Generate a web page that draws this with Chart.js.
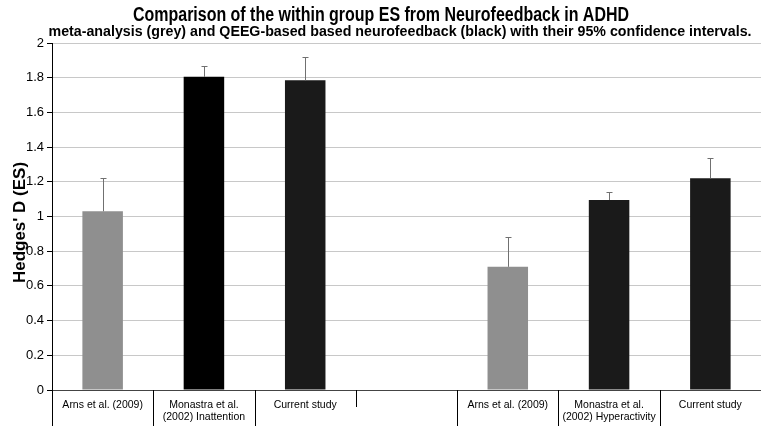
<!DOCTYPE html>
<html>
<head>
<meta charset="utf-8">
<script src="https://cdn.jsdelivr.net/npm/chart.js@4/dist/chart.umd.min.js"></script>
<style>
  body { margin: 0; background: #fff; }
  #wrap { width: 761px; height: 426px; }
</style>
</head>
<body>
<div id="wrap"><canvas id="esChart"></canvas></div>
<script>
const categories = [
    'Arns et al. (2009)',
    ['Monastra et al.', '(2002) Inattention'],
    'Current study',
    '',
    'Arns et al. (2009)',
    ['Monastra et al.', '(2002) Hyperactivity'],
    'Current study'
];
const esValues = [1.03, 1.805, 1.785, null, 0.71, 1.095, 1.22];
const ciUpper = [1.22, 1.865, 1.92, null, 0.88, 1.14, 1.335];
const barColors = ['#8f8f8f', '#000000', '#1a1a1a', '#1a1a1a', '#8f8f8f', '#1a1a1a', '#1a1a1a'];
const yTicks = [0, 0.2, 0.4, 0.6, 0.8, 1, 1.2, 1.4, 1.6, 1.8, 2];

const titleText = 'Comparison of the within group ES from Neurofeedback in ADHD';
const subtitleText = 'meta-analysis (grey) and QEEG-based based neurofeedback (black) with their 95% confidence intervals.';
const yTitleText = "Hedges' D (ES)";

const plain = "'Liberation Sans', Arial, sans-serif";

// the original uses a condensed bold face, so squeeze the text horizontally
function narrowText(ctx, text, size, cx, cy, width) {
    ctx.save();
    ctx.font = 'bold ' + size + 'px ' + plain;
    ctx.fillStyle = '#000';
    ctx.textAlign = 'center';
    ctx.textBaseline = 'middle';
    const w = ctx.measureText(text).width;
    ctx.translate(cx, cy);
    ctx.scale(Math.min(1, width / w), 1);
    ctx.fillText(text, 0, 0);
    ctx.restore();
}

const extras = {
    id: 'extras',
    afterDatasetsDraw(chart) {
        const ctx = chart.ctx;
        const x = chart.scales.x;
        const y = chart.scales.y;
        ctx.save();
        // error bars, upper half only
        ctx.strokeStyle = '#707070';
        ctx.lineWidth = 1;
        ciUpper.forEach((hi, i) => {
            if (hi == null) return;
            const px = Math.round(x.getPixelForValue(i)) + 0.5;
            const top = Math.round(y.getPixelForValue(hi)) + 0.5;
            const base = y.getPixelForValue(esValues[i]);
            ctx.beginPath();
            ctx.moveTo(px, base);
            ctx.lineTo(px, top);
            ctx.moveTo(px - 3, top);
            ctx.lineTo(px + 3, top);
            ctx.stroke();
        });

        // table-like separators under the x axis
        const step = x.getPixelForValue(1) - x.getPixelForValue(0);
        const y0 = y.getPixelForValue(0);
        ctx.strokeStyle = '#000';
        for (let i = 0; i < categories.length - 1; i++) {
            const bx = Math.round(x.getPixelForValue(i) + step / 2) + 0.5;
            const bottom = (i === 2) ? y0 + 17 : chart.height;
            ctx.beginPath();
            ctx.moveTo(bx, y0);
            ctx.lineTo(bx, bottom);
            ctx.stroke();
        }
        const ax = Math.round(chart.chartArea.left) + 0.5;
        ctx.beginPath();
        ctx.moveTo(ax, y0);
        ctx.lineTo(ax, chart.height);
        ctx.stroke();
        ctx.restore();
    },
    afterDraw(chart) {
        const ctx = chart.ctx;
        narrowText(ctx, titleText, 20, 381, 15, 496);
        narrowText(ctx, subtitleText, 15, 400, 32, 703);
        const a = chart.chartArea;
        ctx.save();
        ctx.translate(20, (a.top + a.bottom) / 2 + 6);
        ctx.rotate(-Math.PI / 2);
        ctx.font = 'bold 17px ' + plain;
        ctx.fillStyle = '#000';
        ctx.textAlign = 'center';
        ctx.textBaseline = 'middle';
        ctx.fillText(yTitleText, 0, 0);
        ctx.restore();
    }
};

new Chart(document.getElementById('esChart'), {
    type: 'bar',
    data: {
        labels: categories,
        datasets: [{
            data: esValues,
            backgroundColor: barColors,
            borderWidth: 0,
            barPercentage: 0.4,
            categoryPercentage: 1.0
        }]
    },
    options: {
        responsive: true,
        maintainAspectRatio: false,
        animation: false,
        layout: { padding: { left: 0, right: 0, top: 43, bottom: 0 } },
        plugins: {
            legend: { display: false },
            tooltip: { enabled: false },
            title: { display: false }
        },
        scales: {
            x: {
                grid: { display: false, drawTicks: false },
                border: { display: true, color: '#444', width: 1 },
                ticks: {
                    color: '#000',
                    font: { family: plain, size: 10.5, lineHeight: 1.15 },
                    maxRotation: 0,
                    autoSkip: false,
                    padding: 9
                },
                afterFit(scale) { scale.height = 36; }
            },
            y: {
                min: 0,
                max: 2,
                afterBuildTicks(scale) { scale.ticks = yTicks.map(v => ({ value: v })); },
                grid: { color: '#c8c8c8', tickColor: '#000', tickLength: 5, lineWidth: 1 },
                border: { display: true, color: '#000', width: 1 },
                ticks: {
                    color: '#000',
                    font: { family: plain, size: 13 },
                    padding: 3,
                    callback: v => String(v)
                },
                afterFit(scale) { scale.width = 52; }
            }
        }
    },
    plugins: [extras]
});
</script>
</body>
</html>
